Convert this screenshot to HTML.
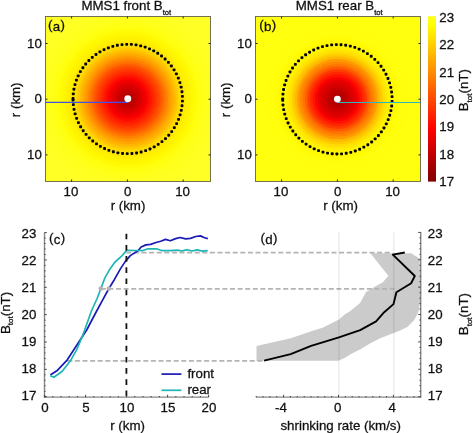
<!DOCTYPE html>
<html><head><meta charset="utf-8"><style>
html,body{margin:0;padding:0;background:#fff;}
svg{display:block;will-change:transform;}
text{font-family:"Liberation Sans", sans-serif;fill:#111;stroke:#111;stroke-width:0.28px;}
</style></head><body>
<svg width="473" height="433" viewBox="0 0 473 433">
<rect width="473" height="433" fill="#fff"/>
<clipPath id="clipa"><rect x="45" y="16" width="166" height="166"/></clipPath>
<g clip-path="url(#clipa)">
<rect x="45" y="16" width="166" height="166" fill="#ffff29"/>
<circle cx="127.80" cy="98.80" r="133.13" fill="#ffff29"/>
<circle cx="127.80" cy="98.80" r="130.55" fill="#ffff29"/>
<circle cx="127.80" cy="98.80" r="127.97" fill="#ffff29"/>
<circle cx="127.80" cy="98.80" r="125.39" fill="#ffff29"/>
<circle cx="127.80" cy="98.80" r="122.81" fill="#ffff28"/>
<circle cx="127.80" cy="98.80" r="120.23" fill="#ffff28"/>
<circle cx="127.80" cy="98.80" r="117.65" fill="#ffff28"/>
<circle cx="127.80" cy="98.80" r="115.07" fill="#ffff28"/>
<circle cx="127.80" cy="98.80" r="112.49" fill="#ffff27"/>
<circle cx="127.80" cy="98.80" r="109.91" fill="#ffff27"/>
<circle cx="127.80" cy="98.80" r="107.33" fill="#ffff27"/>
<circle cx="127.80" cy="98.80" r="104.75" fill="#ffff27"/>
<circle cx="127.80" cy="98.80" r="102.17" fill="#ffff26"/>
<circle cx="127.80" cy="98.80" r="99.59" fill="#ffff26"/>
<circle cx="127.80" cy="98.80" r="97.01" fill="#ffff26"/>
<circle cx="127.80" cy="98.80" r="94.43" fill="#ffff25"/>
<circle cx="127.80" cy="98.80" r="91.85" fill="#ffff23"/>
<circle cx="127.80" cy="98.80" r="89.27" fill="#ffff22"/>
<circle cx="127.80" cy="98.80" r="86.69" fill="#ffff20"/>
<circle cx="127.80" cy="98.80" r="84.11" fill="#ffff1f"/>
<circle cx="127.80" cy="98.80" r="81.53" fill="#ffff1d"/>
<circle cx="127.80" cy="98.80" r="78.95" fill="#ffff1b"/>
<circle cx="127.80" cy="98.80" r="76.37" fill="#ffff16"/>
<circle cx="127.80" cy="98.80" r="73.79" fill="#ffff11"/>
<circle cx="127.80" cy="98.80" r="71.21" fill="#fffe0d"/>
<circle cx="127.80" cy="98.80" r="68.63" fill="#fffb06"/>
<circle cx="127.80" cy="98.80" r="66.05" fill="#fff800"/>
<circle cx="127.80" cy="98.80" r="63.47" fill="#fff400"/>
<circle cx="127.80" cy="98.80" r="60.89" fill="#ffef00"/>
<circle cx="127.80" cy="98.80" r="58.31" fill="#ffe900"/>
<circle cx="127.80" cy="98.80" r="55.73" fill="#ffe100"/>
<circle cx="127.80" cy="98.80" r="53.15" fill="#ffd800"/>
<circle cx="127.80" cy="98.80" r="50.57" fill="#ffc800"/>
<circle cx="127.80" cy="98.80" r="47.99" fill="#ffb700"/>
<circle cx="127.80" cy="98.80" r="45.41" fill="#ffa600"/>
<circle cx="127.80" cy="98.80" r="42.83" fill="#ff9600"/>
<circle cx="127.80" cy="98.80" r="40.25" fill="#ff8300"/>
<circle cx="127.80" cy="98.80" r="37.67" fill="#ff7000"/>
<circle cx="127.80" cy="98.80" r="35.09" fill="#ff5a00"/>
<circle cx="127.80" cy="98.80" r="32.51" fill="#ff4800"/>
<circle cx="127.80" cy="98.80" r="29.93" fill="#ff3800"/>
<circle cx="127.80" cy="98.80" r="27.35" fill="#ff2800"/>
<circle cx="127.80" cy="98.80" r="24.77" fill="#ff1900"/>
<circle cx="127.80" cy="98.80" r="22.19" fill="#ff0800"/>
<circle cx="127.80" cy="98.80" r="19.61" fill="#f50000"/>
<circle cx="127.80" cy="98.80" r="17.03" fill="#e90000"/>
<circle cx="127.80" cy="98.80" r="14.45" fill="#dd0000"/>
<circle cx="127.80" cy="98.80" r="11.87" fill="#d00000"/>
<circle cx="127.80" cy="98.80" r="9.29" fill="#c30000"/>
<circle cx="127.80" cy="98.80" r="6.71" fill="#be0000"/>
<circle cx="127.80" cy="98.80" r="4.13" fill="#ba0000"/>
<circle cx="127.80" cy="98.80" r="1.55" fill="#b90000"/>
</g>
<rect x="71.63" y="97.10" width="2.85" height="2.85" rx="0.8" fill="#000"/>
<rect x="71.87" y="92.42" width="2.85" height="2.85" rx="0.8" fill="#000"/>
<rect x="72.51" y="87.78" width="2.85" height="2.85" rx="0.8" fill="#000"/>
<rect x="73.55" y="83.21" width="2.85" height="2.85" rx="0.8" fill="#000"/>
<rect x="74.97" y="78.74" width="2.85" height="2.85" rx="0.8" fill="#000"/>
<rect x="76.77" y="74.41" width="2.85" height="2.85" rx="0.8" fill="#000"/>
<rect x="78.93" y="70.26" width="2.85" height="2.85" rx="0.8" fill="#000"/>
<rect x="81.45" y="66.30" width="2.85" height="2.85" rx="0.8" fill="#000"/>
<rect x="84.29" y="62.58" width="2.85" height="2.85" rx="0.8" fill="#000"/>
<rect x="87.44" y="59.11" width="2.85" height="2.85" rx="0.8" fill="#000"/>
<rect x="90.87" y="55.92" width="2.85" height="2.85" rx="0.8" fill="#000"/>
<rect x="94.57" y="53.04" width="2.85" height="2.85" rx="0.8" fill="#000"/>
<rect x="98.50" y="50.48" width="2.85" height="2.85" rx="0.8" fill="#000"/>
<rect x="102.63" y="48.27" width="2.85" height="2.85" rx="0.8" fill="#000"/>
<rect x="106.94" y="46.43" width="2.85" height="2.85" rx="0.8" fill="#000"/>
<rect x="111.39" y="44.95" width="2.85" height="2.85" rx="0.8" fill="#000"/>
<rect x="115.94" y="43.87" width="2.85" height="2.85" rx="0.8" fill="#000"/>
<rect x="120.58" y="43.18" width="2.85" height="2.85" rx="0.8" fill="#000"/>
<rect x="125.26" y="42.89" width="2.85" height="2.85" rx="0.8" fill="#000"/>
<rect x="129.94" y="42.99" width="2.85" height="2.85" rx="0.8" fill="#000"/>
<rect x="134.60" y="43.50" width="2.85" height="2.85" rx="0.8" fill="#000"/>
<rect x="139.20" y="44.41" width="2.85" height="2.85" rx="0.8" fill="#000"/>
<rect x="143.70" y="45.71" width="2.85" height="2.85" rx="0.8" fill="#000"/>
<rect x="148.08" y="47.39" width="2.85" height="2.85" rx="0.8" fill="#000"/>
<rect x="152.29" y="49.43" width="2.85" height="2.85" rx="0.8" fill="#000"/>
<rect x="156.32" y="51.83" width="2.85" height="2.85" rx="0.8" fill="#000"/>
<rect x="160.12" y="54.57" width="2.85" height="2.85" rx="0.8" fill="#000"/>
<rect x="163.68" y="57.62" width="2.85" height="2.85" rx="0.8" fill="#000"/>
<rect x="166.96" y="60.96" width="2.85" height="2.85" rx="0.8" fill="#000"/>
<rect x="169.95" y="64.57" width="2.85" height="2.85" rx="0.8" fill="#000"/>
<rect x="172.61" y="68.43" width="2.85" height="2.85" rx="0.8" fill="#000"/>
<rect x="174.94" y="72.50" width="2.85" height="2.85" rx="0.8" fill="#000"/>
<rect x="176.90" y="76.75" width="2.85" height="2.85" rx="0.8" fill="#000"/>
<rect x="178.50" y="81.15" width="2.85" height="2.85" rx="0.8" fill="#000"/>
<rect x="179.72" y="85.68" width="2.85" height="2.85" rx="0.8" fill="#000"/>
<rect x="180.54" y="90.29" width="2.85" height="2.85" rx="0.8" fill="#000"/>
<rect x="180.96" y="94.96" width="2.85" height="2.85" rx="0.8" fill="#000"/>
<rect x="180.99" y="99.65" width="2.85" height="2.85" rx="0.8" fill="#000"/>
<rect x="180.61" y="104.32" width="2.85" height="2.85" rx="0.8" fill="#000"/>
<rect x="179.83" y="108.94" width="2.85" height="2.85" rx="0.8" fill="#000"/>
<rect x="178.66" y="113.48" width="2.85" height="2.85" rx="0.8" fill="#000"/>
<rect x="177.11" y="117.90" width="2.85" height="2.85" rx="0.8" fill="#000"/>
<rect x="175.18" y="122.17" width="2.85" height="2.85" rx="0.8" fill="#000"/>
<rect x="172.90" y="126.26" width="2.85" height="2.85" rx="0.8" fill="#000"/>
<rect x="170.27" y="130.14" width="2.85" height="2.85" rx="0.8" fill="#000"/>
<rect x="167.32" y="133.78" width="2.85" height="2.85" rx="0.8" fill="#000"/>
<rect x="164.07" y="137.16" width="2.85" height="2.85" rx="0.8" fill="#000"/>
<rect x="160.55" y="140.25" width="2.85" height="2.85" rx="0.8" fill="#000"/>
<rect x="156.77" y="143.02" width="2.85" height="2.85" rx="0.8" fill="#000"/>
<rect x="152.77" y="145.46" width="2.85" height="2.85" rx="0.8" fill="#000"/>
<rect x="148.57" y="147.55" width="2.85" height="2.85" rx="0.8" fill="#000"/>
<rect x="144.21" y="149.27" width="2.85" height="2.85" rx="0.8" fill="#000"/>
<rect x="139.72" y="150.61" width="2.85" height="2.85" rx="0.8" fill="#000"/>
<rect x="135.14" y="151.56" width="2.85" height="2.85" rx="0.8" fill="#000"/>
<rect x="130.48" y="152.12" width="2.85" height="2.85" rx="0.8" fill="#000"/>
<rect x="125.80" y="152.27" width="2.85" height="2.85" rx="0.8" fill="#000"/>
<rect x="121.12" y="152.03" width="2.85" height="2.85" rx="0.8" fill="#000"/>
<rect x="116.48" y="151.38" width="2.85" height="2.85" rx="0.8" fill="#000"/>
<rect x="111.91" y="150.34" width="2.85" height="2.85" rx="0.8" fill="#000"/>
<rect x="107.45" y="148.91" width="2.85" height="2.85" rx="0.8" fill="#000"/>
<rect x="103.12" y="147.11" width="2.85" height="2.85" rx="0.8" fill="#000"/>
<rect x="98.97" y="144.94" width="2.85" height="2.85" rx="0.8" fill="#000"/>
<rect x="95.01" y="142.43" width="2.85" height="2.85" rx="0.8" fill="#000"/>
<rect x="91.29" y="139.58" width="2.85" height="2.85" rx="0.8" fill="#000"/>
<rect x="87.82" y="136.43" width="2.85" height="2.85" rx="0.8" fill="#000"/>
<rect x="84.64" y="132.99" width="2.85" height="2.85" rx="0.8" fill="#000"/>
<rect x="81.76" y="129.29" width="2.85" height="2.85" rx="0.8" fill="#000"/>
<rect x="79.21" y="125.36" width="2.85" height="2.85" rx="0.8" fill="#000"/>
<rect x="77.00" y="121.23" width="2.85" height="2.85" rx="0.8" fill="#000"/>
<rect x="75.16" y="116.92" width="2.85" height="2.85" rx="0.8" fill="#000"/>
<rect x="73.69" y="112.47" width="2.85" height="2.85" rx="0.8" fill="#000"/>
<rect x="72.61" y="107.91" width="2.85" height="2.85" rx="0.8" fill="#000"/>
<rect x="71.92" y="103.27" width="2.85" height="2.85" rx="0.8" fill="#000"/>
<rect x="71.63" y="98.60" width="2.85" height="2.85" rx="0.8" fill="#000"/>
<line x1="45" y1="102.4" x2="127.60" y2="102.4" stroke="#4152e6" stroke-width="1.15"/>
<circle cx="127.80" cy="98.80" r="3.45" fill="#fff"/>
<rect x="45.5" y="16.5" width="165" height="165" fill="none" stroke="#5a5a5a" stroke-width="0.85"/>
<line x1="71.60" y1="16.5" x2="71.60" y2="18.5" stroke="#222" stroke-width="1"/>
<line x1="71.60" y1="181.5" x2="71.60" y2="179.5" stroke="#222" stroke-width="1"/>
<line x1="45.5" y1="43.50" x2="47.5" y2="43.50" stroke="#222" stroke-width="1"/>
<line x1="210.5" y1="43.50" x2="208.5" y2="43.50" stroke="#222" stroke-width="1"/>
<line x1="127.40" y1="16.5" x2="127.40" y2="18.5" stroke="#222" stroke-width="1"/>
<line x1="127.40" y1="181.5" x2="127.40" y2="179.5" stroke="#222" stroke-width="1"/>
<line x1="45.5" y1="99.20" x2="47.5" y2="99.20" stroke="#222" stroke-width="1"/>
<line x1="210.5" y1="99.20" x2="208.5" y2="99.20" stroke="#222" stroke-width="1"/>
<line x1="183.20" y1="16.5" x2="183.20" y2="18.5" stroke="#222" stroke-width="1"/>
<line x1="183.20" y1="181.5" x2="183.20" y2="179.5" stroke="#222" stroke-width="1"/>
<line x1="45.5" y1="154.90" x2="47.5" y2="154.90" stroke="#222" stroke-width="1"/>
<line x1="210.5" y1="154.90" x2="208.5" y2="154.90" stroke="#222" stroke-width="1"/>
<text x="71.00" y="195.85" font-size="13.3" text-anchor="middle" >10</text>
<text x="41.80" y="47.65" font-size="13.3" text-anchor="end" >10</text>
<text x="127.60" y="195.85" font-size="13.3" text-anchor="middle" >0</text>
<text x="41.80" y="103.35" font-size="13.3" text-anchor="end" >0</text>
<text x="182.60" y="195.85" font-size="13.3" text-anchor="middle" >10</text>
<text x="41.80" y="159.05" font-size="13.3" text-anchor="end" >10</text>
<text x="128.00" y="210.40" font-size="13.3" text-anchor="middle" >r (km)</text>
<text x="19.80" y="99.80" font-size="13.3" text-anchor="middle" transform="rotate(-90 19.80 99.80)">r (km)</text>
<text x="48.00" y="30.70" font-size="13.3" letter-spacing="0.3"><tspan dy="-2.1">(</tspan><tspan dy="2.1">a</tspan><tspan dy="-2.1">)</tspan></text>
<text x="81.40" y="10.0" font-size="13.3">MMS1 front B<tspan font-size="7.6" dy="4.7">tot</tspan></text>
<clipPath id="clipb"><rect x="255" y="16" width="166" height="166"/></clipPath>
<g clip-path="url(#clipb)">
<rect x="255" y="16" width="166" height="166" fill="#ffff11"/>
<circle cx="337.40" cy="99.10" r="133.13" fill="#ffff11"/>
<circle cx="337.40" cy="99.10" r="130.55" fill="#ffff10"/>
<circle cx="337.40" cy="99.10" r="127.97" fill="#ffff10"/>
<circle cx="337.40" cy="99.10" r="125.39" fill="#ffff10"/>
<circle cx="337.40" cy="99.10" r="122.81" fill="#ffff10"/>
<circle cx="337.40" cy="99.10" r="120.23" fill="#ffff10"/>
<circle cx="337.40" cy="99.10" r="117.65" fill="#ffff10"/>
<circle cx="337.40" cy="99.10" r="115.07" fill="#ffff10"/>
<circle cx="337.40" cy="99.10" r="112.49" fill="#ffff10"/>
<circle cx="337.40" cy="99.10" r="109.91" fill="#ffff10"/>
<circle cx="337.40" cy="99.10" r="107.33" fill="#ffff0f"/>
<circle cx="337.40" cy="99.10" r="104.75" fill="#ffff0f"/>
<circle cx="337.40" cy="99.10" r="102.17" fill="#ffff0f"/>
<circle cx="337.40" cy="99.10" r="99.59" fill="#ffff0f"/>
<circle cx="337.40" cy="99.10" r="97.01" fill="#ffff0f"/>
<circle cx="337.40" cy="99.10" r="94.43" fill="#ffff0f"/>
<circle cx="337.40" cy="99.10" r="91.85" fill="#ffff0f"/>
<circle cx="337.40" cy="99.10" r="89.27" fill="#ffff0f"/>
<circle cx="337.40" cy="99.10" r="86.69" fill="#ffff0f"/>
<circle cx="337.40" cy="99.10" r="84.11" fill="#ffff0e"/>
<circle cx="337.40" cy="99.10" r="81.53" fill="#ffff0e"/>
<circle cx="337.40" cy="99.10" r="78.95" fill="#ffff0e"/>
<circle cx="337.40" cy="99.10" r="76.37" fill="#ffff0e"/>
<circle cx="337.40" cy="99.10" r="73.79" fill="#ffff0e"/>
<circle cx="337.40" cy="99.10" r="71.21" fill="#ffff0d"/>
<circle cx="337.40" cy="99.10" r="68.63" fill="#fffe0d"/>
<circle cx="337.40" cy="99.10" r="66.05" fill="#fffe0c"/>
<circle cx="337.40" cy="99.10" r="63.47" fill="#fffd0a"/>
<circle cx="337.40" cy="99.10" r="60.89" fill="#fffb04"/>
<circle cx="337.40" cy="99.10" r="58.31" fill="#fff800"/>
<circle cx="337.40" cy="99.10" r="55.73" fill="#fff500"/>
<circle cx="337.40" cy="99.10" r="53.15" fill="#fff200"/>
<circle cx="337.40" cy="99.10" r="50.57" fill="#ffe900"/>
<circle cx="337.40" cy="99.10" r="47.99" fill="#ffde00"/>
<circle cx="337.40" cy="99.10" r="45.41" fill="#ffcb00"/>
<circle cx="337.40" cy="99.10" r="42.83" fill="#ffb800"/>
<circle cx="337.40" cy="99.10" r="40.25" fill="#ff9b00"/>
<circle cx="337.40" cy="99.10" r="37.67" fill="#ff8700"/>
<circle cx="337.40" cy="99.10" r="35.09" fill="#ff7400"/>
<circle cx="337.40" cy="99.10" r="32.51" fill="#ff5a00"/>
<circle cx="337.40" cy="99.10" r="29.93" fill="#ff3c00"/>
<circle cx="337.40" cy="99.10" r="27.35" fill="#ff2700"/>
<circle cx="337.40" cy="99.10" r="24.77" fill="#ff1200"/>
<circle cx="337.40" cy="99.10" r="22.19" fill="#fa0000"/>
<circle cx="337.40" cy="99.10" r="19.61" fill="#e60000"/>
<circle cx="337.40" cy="99.10" r="17.03" fill="#dc0000"/>
<circle cx="337.40" cy="99.10" r="14.45" fill="#d30000"/>
<circle cx="337.40" cy="99.10" r="11.87" fill="#c70000"/>
<circle cx="337.40" cy="99.10" r="9.29" fill="#bc0000"/>
<circle cx="337.40" cy="99.10" r="6.71" fill="#b60000"/>
<circle cx="337.40" cy="99.10" r="4.13" fill="#b20000"/>
<circle cx="337.40" cy="99.10" r="1.55" fill="#b00000"/>
</g>
<rect x="281.28" y="97.40" width="2.85" height="2.85" rx="0.8" fill="#000"/>
<rect x="281.52" y="92.72" width="2.85" height="2.85" rx="0.8" fill="#000"/>
<rect x="282.16" y="88.08" width="2.85" height="2.85" rx="0.8" fill="#000"/>
<rect x="283.20" y="83.51" width="2.85" height="2.85" rx="0.8" fill="#000"/>
<rect x="284.62" y="79.04" width="2.85" height="2.85" rx="0.8" fill="#000"/>
<rect x="286.42" y="74.71" width="2.85" height="2.85" rx="0.8" fill="#000"/>
<rect x="288.58" y="70.56" width="2.85" height="2.85" rx="0.8" fill="#000"/>
<rect x="291.10" y="66.60" width="2.85" height="2.85" rx="0.8" fill="#000"/>
<rect x="293.94" y="62.88" width="2.85" height="2.85" rx="0.8" fill="#000"/>
<rect x="297.09" y="59.41" width="2.85" height="2.85" rx="0.8" fill="#000"/>
<rect x="300.52" y="56.22" width="2.85" height="2.85" rx="0.8" fill="#000"/>
<rect x="304.22" y="53.34" width="2.85" height="2.85" rx="0.8" fill="#000"/>
<rect x="308.15" y="50.78" width="2.85" height="2.85" rx="0.8" fill="#000"/>
<rect x="312.28" y="48.57" width="2.85" height="2.85" rx="0.8" fill="#000"/>
<rect x="316.59" y="46.73" width="2.85" height="2.85" rx="0.8" fill="#000"/>
<rect x="321.04" y="45.25" width="2.85" height="2.85" rx="0.8" fill="#000"/>
<rect x="325.59" y="44.17" width="2.85" height="2.85" rx="0.8" fill="#000"/>
<rect x="330.23" y="43.48" width="2.85" height="2.85" rx="0.8" fill="#000"/>
<rect x="334.91" y="43.19" width="2.85" height="2.85" rx="0.8" fill="#000"/>
<rect x="339.59" y="43.29" width="2.85" height="2.85" rx="0.8" fill="#000"/>
<rect x="344.25" y="43.80" width="2.85" height="2.85" rx="0.8" fill="#000"/>
<rect x="348.85" y="44.71" width="2.85" height="2.85" rx="0.8" fill="#000"/>
<rect x="353.35" y="46.01" width="2.85" height="2.85" rx="0.8" fill="#000"/>
<rect x="357.73" y="47.69" width="2.85" height="2.85" rx="0.8" fill="#000"/>
<rect x="361.94" y="49.73" width="2.85" height="2.85" rx="0.8" fill="#000"/>
<rect x="365.97" y="52.13" width="2.85" height="2.85" rx="0.8" fill="#000"/>
<rect x="369.77" y="54.87" width="2.85" height="2.85" rx="0.8" fill="#000"/>
<rect x="373.33" y="57.92" width="2.85" height="2.85" rx="0.8" fill="#000"/>
<rect x="376.61" y="61.26" width="2.85" height="2.85" rx="0.8" fill="#000"/>
<rect x="379.60" y="64.87" width="2.85" height="2.85" rx="0.8" fill="#000"/>
<rect x="382.26" y="68.73" width="2.85" height="2.85" rx="0.8" fill="#000"/>
<rect x="384.59" y="72.80" width="2.85" height="2.85" rx="0.8" fill="#000"/>
<rect x="386.55" y="77.05" width="2.85" height="2.85" rx="0.8" fill="#000"/>
<rect x="388.15" y="81.45" width="2.85" height="2.85" rx="0.8" fill="#000"/>
<rect x="389.37" y="85.98" width="2.85" height="2.85" rx="0.8" fill="#000"/>
<rect x="390.19" y="90.59" width="2.85" height="2.85" rx="0.8" fill="#000"/>
<rect x="390.61" y="95.26" width="2.85" height="2.85" rx="0.8" fill="#000"/>
<rect x="390.64" y="99.95" width="2.85" height="2.85" rx="0.8" fill="#000"/>
<rect x="390.26" y="104.62" width="2.85" height="2.85" rx="0.8" fill="#000"/>
<rect x="389.48" y="109.24" width="2.85" height="2.85" rx="0.8" fill="#000"/>
<rect x="388.31" y="113.78" width="2.85" height="2.85" rx="0.8" fill="#000"/>
<rect x="386.76" y="118.20" width="2.85" height="2.85" rx="0.8" fill="#000"/>
<rect x="384.83" y="122.47" width="2.85" height="2.85" rx="0.8" fill="#000"/>
<rect x="382.55" y="126.56" width="2.85" height="2.85" rx="0.8" fill="#000"/>
<rect x="379.92" y="130.44" width="2.85" height="2.85" rx="0.8" fill="#000"/>
<rect x="376.97" y="134.08" width="2.85" height="2.85" rx="0.8" fill="#000"/>
<rect x="373.72" y="137.46" width="2.85" height="2.85" rx="0.8" fill="#000"/>
<rect x="370.20" y="140.55" width="2.85" height="2.85" rx="0.8" fill="#000"/>
<rect x="366.42" y="143.32" width="2.85" height="2.85" rx="0.8" fill="#000"/>
<rect x="362.42" y="145.76" width="2.85" height="2.85" rx="0.8" fill="#000"/>
<rect x="358.22" y="147.85" width="2.85" height="2.85" rx="0.8" fill="#000"/>
<rect x="353.86" y="149.57" width="2.85" height="2.85" rx="0.8" fill="#000"/>
<rect x="349.37" y="150.91" width="2.85" height="2.85" rx="0.8" fill="#000"/>
<rect x="344.79" y="151.86" width="2.85" height="2.85" rx="0.8" fill="#000"/>
<rect x="340.13" y="152.42" width="2.85" height="2.85" rx="0.8" fill="#000"/>
<rect x="335.45" y="152.57" width="2.85" height="2.85" rx="0.8" fill="#000"/>
<rect x="330.77" y="152.33" width="2.85" height="2.85" rx="0.8" fill="#000"/>
<rect x="326.13" y="151.68" width="2.85" height="2.85" rx="0.8" fill="#000"/>
<rect x="321.56" y="150.64" width="2.85" height="2.85" rx="0.8" fill="#000"/>
<rect x="317.10" y="149.21" width="2.85" height="2.85" rx="0.8" fill="#000"/>
<rect x="312.77" y="147.41" width="2.85" height="2.85" rx="0.8" fill="#000"/>
<rect x="308.62" y="145.24" width="2.85" height="2.85" rx="0.8" fill="#000"/>
<rect x="304.66" y="142.73" width="2.85" height="2.85" rx="0.8" fill="#000"/>
<rect x="300.94" y="139.88" width="2.85" height="2.85" rx="0.8" fill="#000"/>
<rect x="297.47" y="136.73" width="2.85" height="2.85" rx="0.8" fill="#000"/>
<rect x="294.29" y="133.29" width="2.85" height="2.85" rx="0.8" fill="#000"/>
<rect x="291.41" y="129.59" width="2.85" height="2.85" rx="0.8" fill="#000"/>
<rect x="288.86" y="125.66" width="2.85" height="2.85" rx="0.8" fill="#000"/>
<rect x="286.65" y="121.53" width="2.85" height="2.85" rx="0.8" fill="#000"/>
<rect x="284.81" y="117.22" width="2.85" height="2.85" rx="0.8" fill="#000"/>
<rect x="283.34" y="112.77" width="2.85" height="2.85" rx="0.8" fill="#000"/>
<rect x="282.26" y="108.21" width="2.85" height="2.85" rx="0.8" fill="#000"/>
<rect x="281.57" y="103.57" width="2.85" height="2.85" rx="0.8" fill="#000"/>
<rect x="281.28" y="98.90" width="2.85" height="2.85" rx="0.8" fill="#000"/>
<line x1="337.60" y1="102.5" x2="421" y2="102.5" stroke="#2ab6c2" stroke-width="1.15"/>
<circle cx="337.40" cy="99.10" r="3.45" fill="#fff"/>
<rect x="255.5" y="16.5" width="165" height="165" fill="none" stroke="#5a5a5a" stroke-width="0.85"/>
<line x1="281.60" y1="16.5" x2="281.60" y2="18.5" stroke="#222" stroke-width="1"/>
<line x1="281.60" y1="181.5" x2="281.60" y2="179.5" stroke="#222" stroke-width="1"/>
<line x1="255.5" y1="43.50" x2="257.5" y2="43.50" stroke="#222" stroke-width="1"/>
<line x1="420.5" y1="43.50" x2="418.5" y2="43.50" stroke="#222" stroke-width="1"/>
<line x1="337.40" y1="16.5" x2="337.40" y2="18.5" stroke="#222" stroke-width="1"/>
<line x1="337.40" y1="181.5" x2="337.40" y2="179.5" stroke="#222" stroke-width="1"/>
<line x1="255.5" y1="99.20" x2="257.5" y2="99.20" stroke="#222" stroke-width="1"/>
<line x1="420.5" y1="99.20" x2="418.5" y2="99.20" stroke="#222" stroke-width="1"/>
<line x1="393.20" y1="16.5" x2="393.20" y2="18.5" stroke="#222" stroke-width="1"/>
<line x1="393.20" y1="181.5" x2="393.20" y2="179.5" stroke="#222" stroke-width="1"/>
<line x1="255.5" y1="154.90" x2="257.5" y2="154.90" stroke="#222" stroke-width="1"/>
<line x1="420.5" y1="154.90" x2="418.5" y2="154.90" stroke="#222" stroke-width="1"/>
<text x="281.00" y="195.85" font-size="13.3" text-anchor="middle" >10</text>
<text x="251.80" y="47.65" font-size="13.3" text-anchor="end" >10</text>
<text x="337.60" y="195.85" font-size="13.3" text-anchor="middle" >0</text>
<text x="251.80" y="103.35" font-size="13.3" text-anchor="end" >0</text>
<text x="392.60" y="195.85" font-size="13.3" text-anchor="middle" >10</text>
<text x="251.80" y="159.05" font-size="13.3" text-anchor="end" >10</text>
<text x="340.60" y="210.40" font-size="13.3" text-anchor="middle" >r (km)</text>
<text x="229.80" y="99.80" font-size="13.3" text-anchor="middle" transform="rotate(-90 229.80 99.80)">r (km)</text>
<text x="259.30" y="30.70" font-size="13.3" letter-spacing="0.3"><tspan dy="-2.1">(</tspan><tspan dy="2.1">b</tspan><tspan dy="-2.1">)</tspan></text>
<text x="295.80" y="10.0" font-size="13.3">MMS1 rear B<tspan font-size="7.6" dy="4.7">tot</tspan></text>
<linearGradient id="cb" x1="0" y1="1" x2="0" y2="0">
<stop offset="0.0000" stop-color="#800000"/>
<stop offset="0.0167" stop-color="#860000"/>
<stop offset="0.0333" stop-color="#8d0000"/>
<stop offset="0.0500" stop-color="#940000"/>
<stop offset="0.0667" stop-color="#9a0000"/>
<stop offset="0.0833" stop-color="#a10000"/>
<stop offset="0.1000" stop-color="#a80000"/>
<stop offset="0.1167" stop-color="#ae0000"/>
<stop offset="0.1333" stop-color="#b50000"/>
<stop offset="0.1500" stop-color="#bc0000"/>
<stop offset="0.1667" stop-color="#c30000"/>
<stop offset="0.1833" stop-color="#c90000"/>
<stop offset="0.2000" stop-color="#d00000"/>
<stop offset="0.2167" stop-color="#d70000"/>
<stop offset="0.2333" stop-color="#dd0000"/>
<stop offset="0.2500" stop-color="#e40000"/>
<stop offset="0.2667" stop-color="#eb0000"/>
<stop offset="0.2833" stop-color="#f20000"/>
<stop offset="0.3000" stop-color="#f80000"/>
<stop offset="0.3167" stop-color="#ff0000"/>
<stop offset="0.3333" stop-color="#ff0700"/>
<stop offset="0.3500" stop-color="#ff0d00"/>
<stop offset="0.3667" stop-color="#ff1400"/>
<stop offset="0.3833" stop-color="#ff1b00"/>
<stop offset="0.4000" stop-color="#ff2200"/>
<stop offset="0.4167" stop-color="#ff2800"/>
<stop offset="0.4333" stop-color="#ff2f00"/>
<stop offset="0.4500" stop-color="#ff3600"/>
<stop offset="0.4667" stop-color="#ff3d00"/>
<stop offset="0.4833" stop-color="#ff4300"/>
<stop offset="0.5000" stop-color="#ff4a00"/>
<stop offset="0.5167" stop-color="#ff5100"/>
<stop offset="0.5333" stop-color="#ff5800"/>
<stop offset="0.5500" stop-color="#ff5e00"/>
<stop offset="0.5667" stop-color="#ff6500"/>
<stop offset="0.5833" stop-color="#ff6c00"/>
<stop offset="0.6000" stop-color="#ff7300"/>
<stop offset="0.6167" stop-color="#ff7900"/>
<stop offset="0.6333" stop-color="#ff8000"/>
<stop offset="0.6500" stop-color="#ff8700"/>
<stop offset="0.6667" stop-color="#ff8e00"/>
<stop offset="0.6833" stop-color="#ff9400"/>
<stop offset="0.7000" stop-color="#ff9b00"/>
<stop offset="0.7167" stop-color="#ffa200"/>
<stop offset="0.7333" stop-color="#ffa900"/>
<stop offset="0.7500" stop-color="#ffaf00"/>
<stop offset="0.7667" stop-color="#ffb600"/>
<stop offset="0.7833" stop-color="#ffbd00"/>
<stop offset="0.8000" stop-color="#ffc400"/>
<stop offset="0.8167" stop-color="#ffca00"/>
<stop offset="0.8333" stop-color="#ffd100"/>
<stop offset="0.8500" stop-color="#ffd800"/>
<stop offset="0.8667" stop-color="#ffdf00"/>
<stop offset="0.8833" stop-color="#ffe500"/>
<stop offset="0.9000" stop-color="#ffec00"/>
<stop offset="0.9167" stop-color="#fff300"/>
<stop offset="0.9333" stop-color="#fffa00"/>
<stop offset="0.9500" stop-color="#ffff02"/>
<stop offset="0.9667" stop-color="#ffff0c"/>
<stop offset="0.9833" stop-color="#ffff16"/>
<stop offset="1.0000" stop-color="#ffff20"/>
</linearGradient>
<rect x="428" y="16.2" width="8" height="165.4" fill="url(#cb)"/>
<text x="439.30" y="185.83" font-size="13.3" text-anchor="start" >17</text>
<text x="439.30" y="158.55" font-size="13.3" text-anchor="start" >18</text>
<text x="439.30" y="131.27" font-size="13.3" text-anchor="start" >19</text>
<text x="439.30" y="103.99" font-size="13.3" text-anchor="start" >20</text>
<text x="439.30" y="76.71" font-size="13.3" text-anchor="start" >21</text>
<text x="439.30" y="49.43" font-size="13.3" text-anchor="start" >22</text>
<text x="439.30" y="22.15" font-size="13.3" text-anchor="start" >23</text>
<text x="0" y="0" font-size="13.3" transform="translate(468.10 111.30) rotate(-90)">B<tspan font-size="8" dy="3.4">tot</tspan><tspan dy="-3.4">(nT)</tspan></text>
<polygon points="370.4,253.3 411.2,253.3 419.6,258.6 420.5,300.0 418.4,312.1 414.3,320.1 407.3,327.1 398.3,331.2 380.2,338.2 370.0,343.5 360.0,349.5 351.0,354.0 345.0,357.8 338.3,360.8 256.5,360.7 256.5,346.0 290.8,338.3 312.0,331.0 322.5,327.8 331.5,323.3 339.0,319.5 345.0,314.3 350.0,311.2 360.1,303.1 366.1,292.0 369.7,290.1 375.2,286.4 382.9,282.2 388.4,275.7" fill="#cbcbcb"/>
<line x1="126.3" y1="252.7" x2="392.5" y2="252.7" stroke="#b4b4b4" stroke-width="1.75" stroke-dasharray="5 2.6"/>
<line x1="100.8" y1="288.8" x2="396" y2="288.8" stroke="#b4b4b4" stroke-width="1.75" stroke-dasharray="5 2.6"/>
<line x1="67.3" y1="360.8" x2="264" y2="360.8" stroke="#b4b4b4" stroke-width="1.75" stroke-dasharray="5 2.6"/>
<polyline points="50.50,375.00 51.10,374.50 57.60,370.20 67.30,359.80 80.80,339.00 86.70,330.00 95.60,313.00 102.30,300.60 108.90,288.50 114.60,279.20 120.40,268.90 125.00,261.90 130.30,255.60 138.00,250.70 141.10,247.00 145.90,244.90 150.70,244.40 155.90,242.50 160.70,241.20 165.50,239.40 170.30,240.70 175.60,238.60 180.30,237.50 185.60,238.80 190.40,238.40 195.70,236.50 200.40,235.90 204.60,237.70 207.80,238.60" fill="none" stroke="#1a1ab4" stroke-width="1.7" stroke-linejoin="round" />
<polyline points="50.20,375.80 53.90,377.30 62.20,371.20 70.40,360.80 76.60,349.90 82.30,336.40 84.70,330.00 91.40,311.00 97.10,298.50 100.80,288.80 104.80,278.10 110.00,268.90 114.60,262.50 121.60,256.20 126.60,250.40 135.90,250.50 142.20,250.70 148.00,248.80 156.50,248.80 162.30,250.70 170.00,250.70 177.70,250.20 181.90,251.00 187.20,249.70 192.00,251.00 197.20,249.90 202.50,251.10 207.80,250.70" fill="none" stroke="#1fb5b5" stroke-width="1.7" stroke-linejoin="round" />
<circle cx="100.8" cy="288.6" r="2.3" fill="#b4b4b4"/>
<circle cx="108.9" cy="288.6" r="2.3" fill="#b4b4b4"/>
<line x1="126.4" y1="233.7" x2="126.4" y2="396.7" stroke="#111" stroke-width="1.8" stroke-dasharray="5.6 5.6"/>
<line x1="44.5" y1="232.5" x2="44.5" y2="397.7" stroke="#858585" stroke-width="1.4"/>
<line x1="43.9" y1="397.1" x2="208.8" y2="397.1" stroke="#858585" stroke-width="1.4"/>
<line x1="44.4" y1="396.70" x2="46.80" y2="396.70" stroke="#333333" stroke-width="0.9"/>
<line x1="44.4" y1="391.23" x2="45.60" y2="391.23" stroke="#333333" stroke-width="0.9"/>
<line x1="44.4" y1="385.76" x2="45.60" y2="385.76" stroke="#333333" stroke-width="0.9"/>
<line x1="44.4" y1="380.29" x2="45.60" y2="380.29" stroke="#333333" stroke-width="0.9"/>
<line x1="44.4" y1="374.82" x2="45.60" y2="374.82" stroke="#333333" stroke-width="0.9"/>
<line x1="44.4" y1="369.35" x2="46.80" y2="369.35" stroke="#333333" stroke-width="0.9"/>
<line x1="44.4" y1="363.88" x2="45.60" y2="363.88" stroke="#333333" stroke-width="0.9"/>
<line x1="44.4" y1="358.41" x2="45.60" y2="358.41" stroke="#333333" stroke-width="0.9"/>
<line x1="44.4" y1="352.94" x2="45.60" y2="352.94" stroke="#333333" stroke-width="0.9"/>
<line x1="44.4" y1="347.47" x2="45.60" y2="347.47" stroke="#333333" stroke-width="0.9"/>
<line x1="44.4" y1="342.00" x2="46.80" y2="342.00" stroke="#333333" stroke-width="0.9"/>
<line x1="44.4" y1="336.53" x2="45.60" y2="336.53" stroke="#333333" stroke-width="0.9"/>
<line x1="44.4" y1="331.06" x2="45.60" y2="331.06" stroke="#333333" stroke-width="0.9"/>
<line x1="44.4" y1="325.59" x2="45.60" y2="325.59" stroke="#333333" stroke-width="0.9"/>
<line x1="44.4" y1="320.12" x2="45.60" y2="320.12" stroke="#333333" stroke-width="0.9"/>
<line x1="44.4" y1="314.65" x2="46.80" y2="314.65" stroke="#333333" stroke-width="0.9"/>
<line x1="44.4" y1="309.18" x2="45.60" y2="309.18" stroke="#333333" stroke-width="0.9"/>
<line x1="44.4" y1="303.71" x2="45.60" y2="303.71" stroke="#333333" stroke-width="0.9"/>
<line x1="44.4" y1="298.24" x2="45.60" y2="298.24" stroke="#333333" stroke-width="0.9"/>
<line x1="44.4" y1="292.77" x2="45.60" y2="292.77" stroke="#333333" stroke-width="0.9"/>
<line x1="44.4" y1="287.30" x2="46.80" y2="287.30" stroke="#333333" stroke-width="0.9"/>
<line x1="44.4" y1="281.83" x2="45.60" y2="281.83" stroke="#333333" stroke-width="0.9"/>
<line x1="44.4" y1="276.36" x2="45.60" y2="276.36" stroke="#333333" stroke-width="0.9"/>
<line x1="44.4" y1="270.89" x2="45.60" y2="270.89" stroke="#333333" stroke-width="0.9"/>
<line x1="44.4" y1="265.42" x2="45.60" y2="265.42" stroke="#333333" stroke-width="0.9"/>
<line x1="44.4" y1="259.95" x2="46.80" y2="259.95" stroke="#333333" stroke-width="0.9"/>
<line x1="44.4" y1="254.48" x2="45.60" y2="254.48" stroke="#333333" stroke-width="0.9"/>
<line x1="44.4" y1="249.01" x2="45.60" y2="249.01" stroke="#333333" stroke-width="0.9"/>
<line x1="44.4" y1="243.54" x2="45.60" y2="243.54" stroke="#333333" stroke-width="0.9"/>
<line x1="44.4" y1="238.07" x2="45.60" y2="238.07" stroke="#333333" stroke-width="0.9"/>
<line x1="44.4" y1="232.60" x2="46.80" y2="232.60" stroke="#333333" stroke-width="0.9"/>
<line x1="44.60" y1="397.2" x2="44.60" y2="394.80" stroke="#333333" stroke-width="0.9"/>
<line x1="52.80" y1="397.2" x2="52.80" y2="396.00" stroke="#333333" stroke-width="0.9"/>
<line x1="61.00" y1="397.2" x2="61.00" y2="396.00" stroke="#333333" stroke-width="0.9"/>
<line x1="69.20" y1="397.2" x2="69.20" y2="396.00" stroke="#333333" stroke-width="0.9"/>
<line x1="77.40" y1="397.2" x2="77.40" y2="396.00" stroke="#333333" stroke-width="0.9"/>
<line x1="85.60" y1="397.2" x2="85.60" y2="394.80" stroke="#333333" stroke-width="0.9"/>
<line x1="93.80" y1="397.2" x2="93.80" y2="396.00" stroke="#333333" stroke-width="0.9"/>
<line x1="102.00" y1="397.2" x2="102.00" y2="396.00" stroke="#333333" stroke-width="0.9"/>
<line x1="110.20" y1="397.2" x2="110.20" y2="396.00" stroke="#333333" stroke-width="0.9"/>
<line x1="118.40" y1="397.2" x2="118.40" y2="396.00" stroke="#333333" stroke-width="0.9"/>
<line x1="126.60" y1="397.2" x2="126.60" y2="394.80" stroke="#333333" stroke-width="0.9"/>
<line x1="134.80" y1="397.2" x2="134.80" y2="396.00" stroke="#333333" stroke-width="0.9"/>
<line x1="143.00" y1="397.2" x2="143.00" y2="396.00" stroke="#333333" stroke-width="0.9"/>
<line x1="151.20" y1="397.2" x2="151.20" y2="396.00" stroke="#333333" stroke-width="0.9"/>
<line x1="159.40" y1="397.2" x2="159.40" y2="396.00" stroke="#333333" stroke-width="0.9"/>
<line x1="167.60" y1="397.2" x2="167.60" y2="394.80" stroke="#333333" stroke-width="0.9"/>
<line x1="175.80" y1="397.2" x2="175.80" y2="396.00" stroke="#333333" stroke-width="0.9"/>
<line x1="184.00" y1="397.2" x2="184.00" y2="396.00" stroke="#333333" stroke-width="0.9"/>
<line x1="192.20" y1="397.2" x2="192.20" y2="396.00" stroke="#333333" stroke-width="0.9"/>
<line x1="200.40" y1="397.2" x2="200.40" y2="396.00" stroke="#333333" stroke-width="0.9"/>
<line x1="208.60" y1="397.2" x2="208.60" y2="394.80" stroke="#333333" stroke-width="0.9"/>
<text x="36.40" y="400.35" font-size="13.3" text-anchor="end" >17</text>
<text x="36.40" y="373.30" font-size="13.3" text-anchor="end" >18</text>
<text x="36.40" y="346.25" font-size="13.3" text-anchor="end" >19</text>
<text x="36.40" y="319.20" font-size="13.3" text-anchor="end" >20</text>
<text x="36.40" y="292.15" font-size="13.3" text-anchor="end" >21</text>
<text x="36.40" y="265.10" font-size="13.3" text-anchor="end" >22</text>
<text x="36.40" y="238.05" font-size="13.3" text-anchor="end" >23</text>
<text x="44.90" y="412.35" font-size="13.3" text-anchor="middle" >0</text>
<text x="85.90" y="412.35" font-size="13.3" text-anchor="middle" >5</text>
<text x="126.90" y="412.35" font-size="13.3" text-anchor="middle" >10</text>
<text x="167.90" y="412.35" font-size="13.3" text-anchor="middle" >15</text>
<text x="208.90" y="412.35" font-size="13.3" text-anchor="middle" >20</text>
<text x="127.60" y="429.60" font-size="13.3" text-anchor="middle" >r (km)</text>
<text x="0" y="0" font-size="13.3" transform="translate(9.70 334.00) rotate(-90)">B<tspan font-size="8" dy="3.4">tot</tspan><tspan dy="-3.4">(nT)</tspan></text>
<text x="49.00" y="243.90" font-size="13.3" letter-spacing="0.3"><tspan dy="-2.1">(</tspan><tspan dy="2.1">c</tspan><tspan dy="-2.1">)</tspan></text>
<line x1="161.5" y1="374.1" x2="181.4" y2="374.1" stroke="#1a1ab4" stroke-width="1.7"/>
<line x1="161.5" y1="390.3" x2="181.4" y2="390.3" stroke="#1fb5b5" stroke-width="1.7"/>
<text x="187.40" y="378.20" font-size="13.3" text-anchor="start" >front</text>
<text x="187.40" y="394.20" font-size="13.3" text-anchor="start" >rear</text>
<line x1="338.9" y1="232.4" x2="338.9" y2="396.7" stroke="#000" stroke-opacity="0.065" stroke-width="1.7"/>
<line x1="393.8" y1="232.4" x2="393.8" y2="396.7" stroke="#000" stroke-opacity="0.065" stroke-width="1.7"/>
<polyline points="264.10,360.70 290.70,354.10 311.10,345.90 338.90,337.40 360.20,330.10 376.10,321.30 384.20,312.20 393.50,304.10 396.40,292.20 411.20,283.20 414.80,276.00 392.80,254.60 404.80,252.50" fill="none" stroke="#000" stroke-width="1.9" stroke-linejoin="round" />
<line x1="420.7" y1="232.1" x2="420.7" y2="397.8" stroke="#858585" stroke-width="1.4"/>
<line x1="256" y1="397.1" x2="421.1" y2="397.1" stroke="#858585" stroke-width="1.4"/>
<line x1="420.6" y1="396.68" x2="418.20" y2="396.68" stroke="#333333" stroke-width="0.9"/>
<line x1="420.6" y1="391.20" x2="419.40" y2="391.20" stroke="#333333" stroke-width="0.9"/>
<line x1="420.6" y1="385.73" x2="419.40" y2="385.73" stroke="#333333" stroke-width="0.9"/>
<line x1="420.6" y1="380.25" x2="419.40" y2="380.25" stroke="#333333" stroke-width="0.9"/>
<line x1="420.6" y1="374.78" x2="419.40" y2="374.78" stroke="#333333" stroke-width="0.9"/>
<line x1="420.6" y1="369.30" x2="418.20" y2="369.30" stroke="#333333" stroke-width="0.9"/>
<line x1="420.6" y1="363.82" x2="419.40" y2="363.82" stroke="#333333" stroke-width="0.9"/>
<line x1="420.6" y1="358.35" x2="419.40" y2="358.35" stroke="#333333" stroke-width="0.9"/>
<line x1="420.6" y1="352.87" x2="419.40" y2="352.87" stroke="#333333" stroke-width="0.9"/>
<line x1="420.6" y1="347.40" x2="419.40" y2="347.40" stroke="#333333" stroke-width="0.9"/>
<line x1="420.6" y1="341.92" x2="418.20" y2="341.92" stroke="#333333" stroke-width="0.9"/>
<line x1="420.6" y1="336.44" x2="419.40" y2="336.44" stroke="#333333" stroke-width="0.9"/>
<line x1="420.6" y1="330.97" x2="419.40" y2="330.97" stroke="#333333" stroke-width="0.9"/>
<line x1="420.6" y1="325.49" x2="419.40" y2="325.49" stroke="#333333" stroke-width="0.9"/>
<line x1="420.6" y1="320.02" x2="419.40" y2="320.02" stroke="#333333" stroke-width="0.9"/>
<line x1="420.6" y1="314.54" x2="418.20" y2="314.54" stroke="#333333" stroke-width="0.9"/>
<line x1="420.6" y1="309.06" x2="419.40" y2="309.06" stroke="#333333" stroke-width="0.9"/>
<line x1="420.6" y1="303.59" x2="419.40" y2="303.59" stroke="#333333" stroke-width="0.9"/>
<line x1="420.6" y1="298.11" x2="419.40" y2="298.11" stroke="#333333" stroke-width="0.9"/>
<line x1="420.6" y1="292.64" x2="419.40" y2="292.64" stroke="#333333" stroke-width="0.9"/>
<line x1="420.6" y1="287.16" x2="418.20" y2="287.16" stroke="#333333" stroke-width="0.9"/>
<line x1="420.6" y1="281.68" x2="419.40" y2="281.68" stroke="#333333" stroke-width="0.9"/>
<line x1="420.6" y1="276.21" x2="419.40" y2="276.21" stroke="#333333" stroke-width="0.9"/>
<line x1="420.6" y1="270.73" x2="419.40" y2="270.73" stroke="#333333" stroke-width="0.9"/>
<line x1="420.6" y1="265.26" x2="419.40" y2="265.26" stroke="#333333" stroke-width="0.9"/>
<line x1="420.6" y1="259.78" x2="418.20" y2="259.78" stroke="#333333" stroke-width="0.9"/>
<line x1="420.6" y1="254.30" x2="419.40" y2="254.30" stroke="#333333" stroke-width="0.9"/>
<line x1="420.6" y1="248.83" x2="419.40" y2="248.83" stroke="#333333" stroke-width="0.9"/>
<line x1="420.6" y1="243.35" x2="419.40" y2="243.35" stroke="#333333" stroke-width="0.9"/>
<line x1="420.6" y1="237.88" x2="419.40" y2="237.88" stroke="#333333" stroke-width="0.9"/>
<line x1="420.6" y1="232.40" x2="418.20" y2="232.40" stroke="#333333" stroke-width="0.9"/>
<line x1="256.18" y1="397.2" x2="256.18" y2="396.00" stroke="#333333" stroke-width="0.9"/>
<line x1="263.04" y1="397.2" x2="263.04" y2="396.00" stroke="#333333" stroke-width="0.9"/>
<line x1="269.90" y1="397.2" x2="269.90" y2="396.00" stroke="#333333" stroke-width="0.9"/>
<line x1="276.76" y1="397.2" x2="276.76" y2="396.00" stroke="#333333" stroke-width="0.9"/>
<line x1="283.62" y1="397.2" x2="283.62" y2="394.80" stroke="#333333" stroke-width="0.9"/>
<line x1="290.48" y1="397.2" x2="290.48" y2="396.00" stroke="#333333" stroke-width="0.9"/>
<line x1="297.34" y1="397.2" x2="297.34" y2="396.00" stroke="#333333" stroke-width="0.9"/>
<line x1="304.20" y1="397.2" x2="304.20" y2="396.00" stroke="#333333" stroke-width="0.9"/>
<line x1="311.06" y1="397.2" x2="311.06" y2="396.00" stroke="#333333" stroke-width="0.9"/>
<line x1="317.92" y1="397.2" x2="317.92" y2="396.00" stroke="#333333" stroke-width="0.9"/>
<line x1="324.78" y1="397.2" x2="324.78" y2="396.00" stroke="#333333" stroke-width="0.9"/>
<line x1="331.64" y1="397.2" x2="331.64" y2="396.00" stroke="#333333" stroke-width="0.9"/>
<line x1="338.50" y1="397.2" x2="338.50" y2="394.80" stroke="#333333" stroke-width="0.9"/>
<line x1="345.36" y1="397.2" x2="345.36" y2="396.00" stroke="#333333" stroke-width="0.9"/>
<line x1="352.22" y1="397.2" x2="352.22" y2="396.00" stroke="#333333" stroke-width="0.9"/>
<line x1="359.08" y1="397.2" x2="359.08" y2="396.00" stroke="#333333" stroke-width="0.9"/>
<line x1="365.94" y1="397.2" x2="365.94" y2="396.00" stroke="#333333" stroke-width="0.9"/>
<line x1="372.80" y1="397.2" x2="372.80" y2="396.00" stroke="#333333" stroke-width="0.9"/>
<line x1="379.66" y1="397.2" x2="379.66" y2="396.00" stroke="#333333" stroke-width="0.9"/>
<line x1="386.52" y1="397.2" x2="386.52" y2="396.00" stroke="#333333" stroke-width="0.9"/>
<line x1="393.38" y1="397.2" x2="393.38" y2="394.80" stroke="#333333" stroke-width="0.9"/>
<line x1="400.24" y1="397.2" x2="400.24" y2="396.00" stroke="#333333" stroke-width="0.9"/>
<line x1="407.10" y1="397.2" x2="407.10" y2="396.00" stroke="#333333" stroke-width="0.9"/>
<line x1="413.96" y1="397.2" x2="413.96" y2="396.00" stroke="#333333" stroke-width="0.9"/>
<text x="427.80" y="400.35" font-size="13.3" text-anchor="start" >17</text>
<text x="427.80" y="373.30" font-size="13.3" text-anchor="start" >18</text>
<text x="427.80" y="346.25" font-size="13.3" text-anchor="start" >19</text>
<text x="427.80" y="319.20" font-size="13.3" text-anchor="start" >20</text>
<text x="427.80" y="292.15" font-size="13.3" text-anchor="start" >21</text>
<text x="427.80" y="265.10" font-size="13.3" text-anchor="start" >22</text>
<text x="427.80" y="238.05" font-size="13.3" text-anchor="start" >23</text>
<text x="280.90" y="412.35" font-size="13.3" text-anchor="middle" >-4</text>
<text x="337.60" y="412.35" font-size="13.3" text-anchor="middle" >0</text>
<text x="392.30" y="412.35" font-size="13.3" text-anchor="middle" >4</text>
<text x="340.70" y="429.60" font-size="13.3" text-anchor="middle" >shrinking rate (km/s)</text>
<text x="0" y="0" font-size="13.3" transform="translate(468.10 335.20) rotate(-90)">B<tspan font-size="8" dy="3.4">tot</tspan><tspan dy="-3.4">(nT)</tspan></text>
<text x="260.50" y="243.90" font-size="13.3" letter-spacing="0.3"><tspan dy="-2.1">(</tspan><tspan dy="2.1">d</tspan><tspan dy="-2.1">)</tspan></text>
</svg>
</body></html>
